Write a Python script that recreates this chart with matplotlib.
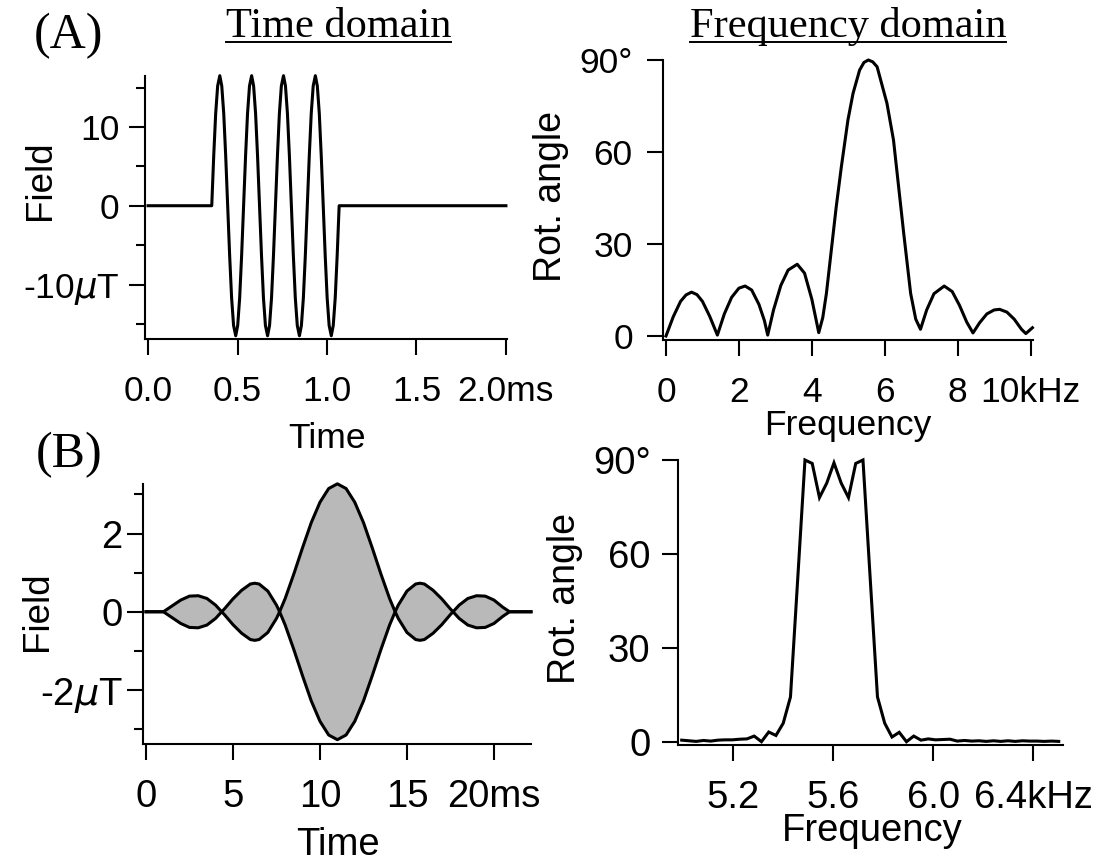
import matplotlib
matplotlib.use("Agg")
import matplotlib.pyplot as plt
from matplotlib.lines import Line2D

plt.rcParams['font.family'] = ['Liberation Sans', 'DejaVu Sans']
plt.rcParams['mathtext.fontset'] = 'dejavusans'

W, H = 1102, 863
DPI = 100

# ---------------- data ----------------
# (A) time domain: rectangular 4-cycle burst (ms, uT)
time_A = [0.0, 0.356, 0.367, 0.378, 0.389, 0.401, 0.412, 0.423, 0.434, 0.445, 0.456,
          0.467, 0.478, 0.490, 0.501, 0.512, 0.523, 0.534, 0.545, 0.556, 0.567,
          0.579, 0.590, 0.601, 0.612, 0.623, 0.634, 0.645, 0.656, 0.668, 0.679,
          0.690, 0.701, 0.712, 0.723, 0.734, 0.745, 0.757, 0.768, 0.779, 0.790,
          0.801, 0.812, 0.823, 0.834, 0.846, 0.857, 0.868, 0.879, 0.890, 0.901,
          0.912, 0.923, 0.935, 0.946, 0.957, 0.968, 0.979, 0.990, 1.001, 1.012,
          1.024, 1.035, 1.046, 1.057, 1.068, 2.0]
field_A = [0.0, 0.0, 6.3, 11.7, 15.2, 16.5, 15.2, 11.7, 6.3, 0.0, -6.3,
           -11.7, -15.2, -16.5, -15.2, -11.7, -6.3, 0.0, 6.3, 11.7, 15.2,
           16.5, 15.2, 11.7, 6.3, 0.0, -6.3, -11.7, -15.2, -16.5, -15.2,
           -11.7, -6.3, 0.0, 6.3, 11.7, 15.2, 16.5, 15.2, 11.7, 6.3,
           0.0, -6.3, -11.7, -15.2, -16.5, -15.2, -11.7, -6.3, 0.0, 6.3,
           11.7, 15.2, 16.5, 15.2, 11.7, 6.3, 0.0, -6.3, -11.7, -15.2,
           -16.5, -15.2, -11.7, -6.3, 0.0, 0.0]

# (A) frequency domain (kHz, degrees)
freq_A = [0.0, 0.2, 0.4, 0.55, 0.7, 0.85, 1.0, 1.2, 1.41, 1.6, 1.8, 2.0, 2.17, 2.35,
          2.55, 2.7, 2.79, 2.95, 3.15, 3.35, 3.6, 3.8, 4.0, 4.19, 4.3, 4.4, 4.67,
          4.81, 4.99, 5.13, 5.31, 5.43, 5.55, 5.67, 5.79, 6.06, 6.24, 6.52, 6.71,
          6.85, 6.98, 7.15, 7.35, 7.63, 7.85, 8.05, 8.25, 8.42, 8.6, 8.8, 9.0,
          9.15, 9.35, 9.55, 9.75, 9.87, 10.05]
angle_A = [0.0, 6.3, 11.3, 13.4, 14.3, 13.5, 11.3, 6.4, 0.3, 7.2, 12.6, 15.6, 16.3, 15.0,
           10.3, 5.0, 0.3, 8.5, 16.5, 21.5, 23.4, 20.5, 12.0, 1.1, 6.0, 13.9, 42.2,
           55.2, 70.4, 79.1, 86.7, 89.2, 90.0, 89.4, 87.8, 75.9, 63.9, 33.5, 13.9,
           5.5, 2.2, 8.5, 13.8, 16.3, 14.5, 10.0, 4.5, 1.0, 4.3, 7.2, 8.5,
           8.7, 7.8, 5.5, 2.2, 0.8, 2.7]

# (B) time domain: sinc-shaped pulse envelope (ms, uT)
time_B = [0.0, 1.0, 1.5, 2.0, 2.5, 3.0, 3.5, 4.0, 4.35, 4.5, 5.0, 5.5, 6.0, 6.25, 6.5,
          7.0, 7.5, 7.68, 8.0, 8.5, 9.0, 9.5, 10.0, 10.5, 11.0, 11.5, 12.0, 12.5,
          13.0, 13.5, 14.0, 14.32, 14.5, 15.0, 15.5, 15.75, 16.0, 16.5, 17.0, 17.5,
          17.65, 18.0, 18.5, 19.0, 19.5, 20.0, 20.5, 20.9, 22.13]
env_B = [0.0, 0.0, 0.15, 0.30, 0.40, 0.41, 0.34, 0.17, 0.0, 0.07, 0.33, 0.55, 0.71, 0.73, 0.71,
         0.53, 0.17, 0.0, 0.34, 0.97, 1.64, 2.28, 2.80, 3.15, 3.27, 3.15, 2.80, 2.28,
         1.64, 0.97, 0.34, 0.0, 0.17, 0.53, 0.71, 0.73, 0.71, 0.55, 0.33, 0.07,
         0.0, 0.17, 0.34, 0.41, 0.40, 0.30, 0.12, 0.0, 0.0]

# (B) frequency domain (kHz, degrees)
freq_B = [4.994, 5.023, 5.052, 5.081, 5.110, 5.139, 5.168, 5.197, 5.226, 5.255,
          5.284, 5.313, 5.342, 5.371, 5.400, 5.429, 5.458, 5.487, 5.516, 5.545,
          5.574, 5.603, 5.632, 5.661, 5.690, 5.719, 5.748, 5.777, 5.806, 5.835,
          5.864, 5.893, 5.922, 5.951, 5.980, 6.009, 6.038, 6.067, 6.096, 6.125,
          6.154, 6.183, 6.212, 6.241, 6.270, 6.299, 6.328, 6.357, 6.386, 6.415,
          6.444, 6.473, 6.502]
angle_B = [0.5, 0.3, 0.1, 0.4, 0.2, 0.5, 0.6, 0.6, 0.8, 0.9,
           1.8, 0.0, 3.1, 2.0, 5.9, 14.3, 52.0, 90.0, 88.9, 78.0,
           82.6, 89.1, 82.6, 78.0, 88.9, 90.0, 52.0, 14.3, 5.9, 1.5,
           3.0, 0.0, 1.8, 0.5, 0.9, 0.6, 0.7, 0.8, 0.2, 0.4,
           0.2, 0.3, 0.1, 0.3, 0.1, 0.3, 0.1, 0.3, 0.2, 0.2,
           0.1, 0.2, 0.1]

# tick labels
xt_A1 = [0.0, 0.5, 1.0, 1.5, 2.0]; xl_A1 = ["0.0", "0.5", "1.0", "1.5", "2.0ms"]
yt_A1 = [-10, 0, 10]; yl_A1 = ["-10$\\mu$T", "0", "10"]; ym_A1 = [-15, -5, 5, 15]
xt_A2 = [0, 2, 4, 6, 8, 10]; xl_A2 = ["0", "2", "4", "6", "8", "10kHz"]
yt_A2 = [0, 30, 60, 90]; yl_A2 = ["0", "30", "60", "90°"]
xt_B1 = [0, 5, 10, 15, 20]; xl_B1 = ["0", "5", "10", "15", "20ms"]
yt_B1 = [-2, 0, 2]; yl_B1 = ["-2$\\mu$T", "0", "2"]; ym_B1 = [-3, -1, 1, 3]
xt_B2 = [5.2, 5.6, 6.0, 6.4]; xl_B2 = ["5.2", "5.6", "6.0", "6.4kHz"]
yt_B2 = [0, 30, 60, 90]; yl_B2 = ["0", "30", "60", "90°"]

# ---------------- figure ----------------
fig = plt.figure(figsize=(W / DPI, H / DPI), dpi=DPI)
fig.patch.set_facecolor('white')


def px_ax(l, r, t, b):
    return fig.add_axes([l / W, 1 - b / H, (r - l) / W, (b - t) / H])


def style(ax, fs, xpad, ypad):
    for s in ['top', 'right']:
        ax.spines[s].set_visible(False)
    for s in ['left', 'bottom']:
        ax.spines[s].set_linewidth(1.5)
    ax.tick_params(which='major', direction='out', length=11.5, width=1.5, labelsize=fs)
    ax.tick_params(which='minor', direction='out', length=6.5, width=1.5)
    ax.tick_params(axis='x', which='major', pad=xpad)
    ax.tick_params(axis='y', which='major', pad=ypad)
    ax.set_facecolor('none')


def ftext(x, y, s, **kw):
    return fig.text(x / W, 1 - y / H, s, **kw)


LW = 2.2

# (A) time domain
ax1 = px_ax(145, 507, 76, 339.3)
ax1.plot(time_A, field_A, color='black', lw=LW, clip_on=False, solid_joinstyle='round')
ax1.set_xlim(-0.017, 2.006)
ax1.set_ylim(-16.95, 16.46)
ax1.set_xticks(xt_A1, xl_A1)
ax1.set_yticks(yt_A1, yl_A1)
ax1.set_yticks(ym_A1, minor=True)
style(ax1, 25.5, 14.5, 7)

# (A) frequency domain
ax2 = px_ax(662.7, 1033, 60, 340)
ax2.plot(freq_A, angle_A, color='black', lw=LW, clip_on=False, solid_joinstyle='round')
ax2.set_xlim(-0.09, 10.066)
ax2.set_ylim(-1.3, 90)
ax2.set_xticks(xt_A2, xl_A2)
ax2.set_yticks(yt_A2, yl_A2)
style(ax2, 25.5, 14.5, 10)

# (B) time domain
ax3 = px_ax(142.7, 531, 484, 744)
neg_B = [-v for v in env_B]
ax3.fill_between(time_B, neg_B, env_B, color='#b9b9b9', lw=0)
ax3.plot(time_B, env_B, color='black', lw=LW, clip_on=False, solid_joinstyle='round')
ax3.plot(time_B, neg_B, color='black', lw=LW, clip_on=False, solid_joinstyle='round')
ax3.set_xlim(-0.19, 22.13)
ax3.set_ylim(-3.38, 3.266)
ax3.set_xticks(xt_B1, xl_B1)
ax3.set_yticks(yt_B1, yl_B1)
ax3.set_yticks(ym_B1, minor=True)
style(ax3, 27.5, 14, 3)

# (B) frequency domain
ax4 = px_ax(677.7, 1063, 460, 745)
ax4.plot(freq_B, angle_B, color='black', lw=LW, clip_on=False, solid_joinstyle='miter')
ax4.set_xlim(4.978, 6.519)
ax4.set_ylim(-1.05, 90)
ax4.set_xticks(xt_B2, xl_B2)
ax4.set_yticks(yt_B2, yl_B2)
style(ax4, 27.5, 14, 8)

# axis labels
ftext(327, 448, "Time", fontsize=25.5, ha='center', va='baseline')
ftext(848, 435, "Frequency", fontsize=25.5, ha='center', va='baseline')
ftext(338, 855, "Time", fontsize=27.5, ha='center', va='baseline')
ftext(872, 841, "Frequency", fontsize=27.5, ha='center', va='baseline')
ftext(40.5, 180, "Field", fontsize=26.5, rotation=90, ha='center', va='center')
ftext(551, 196, "Rot. angle", fontsize=27, rotation=90, ha='center', va='center')
ftext(38, 611, "Field", fontsize=26.5, rotation=90, ha='center', va='center')
ftext(565, 598, "Rot. angle", fontsize=27, rotation=90, ha='center', va='center')

# panel letters and titles (serif)
ftext(69, 48, "(A)", fontsize=36, family='Liberation Serif', ha='center', va='baseline')
ftext(69, 467, "(B)", fontsize=36, family='Liberation Serif', ha='center', va='baseline')
t1 = ftext(338.5, 37, "Time domain", fontsize=30.5, family='Liberation Serif',
           ha='center', va='baseline')
t2 = ftext(848, 37, "Frequency domain", fontsize=30.5, family='Liberation Serif',
           ha='center', va='baseline')

fig.canvas.draw()
renderer = fig.canvas.get_renderer()
for t in (t1, t2):
    bb = t.get_window_extent(renderer)
    fig.add_artist(Line2D([bb.x0 / W, bb.x1 / W], [1 - 42 / H, 1 - 42 / H],
                          transform=fig.transFigure, color='black', lw=1.4))

fig.savefig("out.png", dpi=DPI)
